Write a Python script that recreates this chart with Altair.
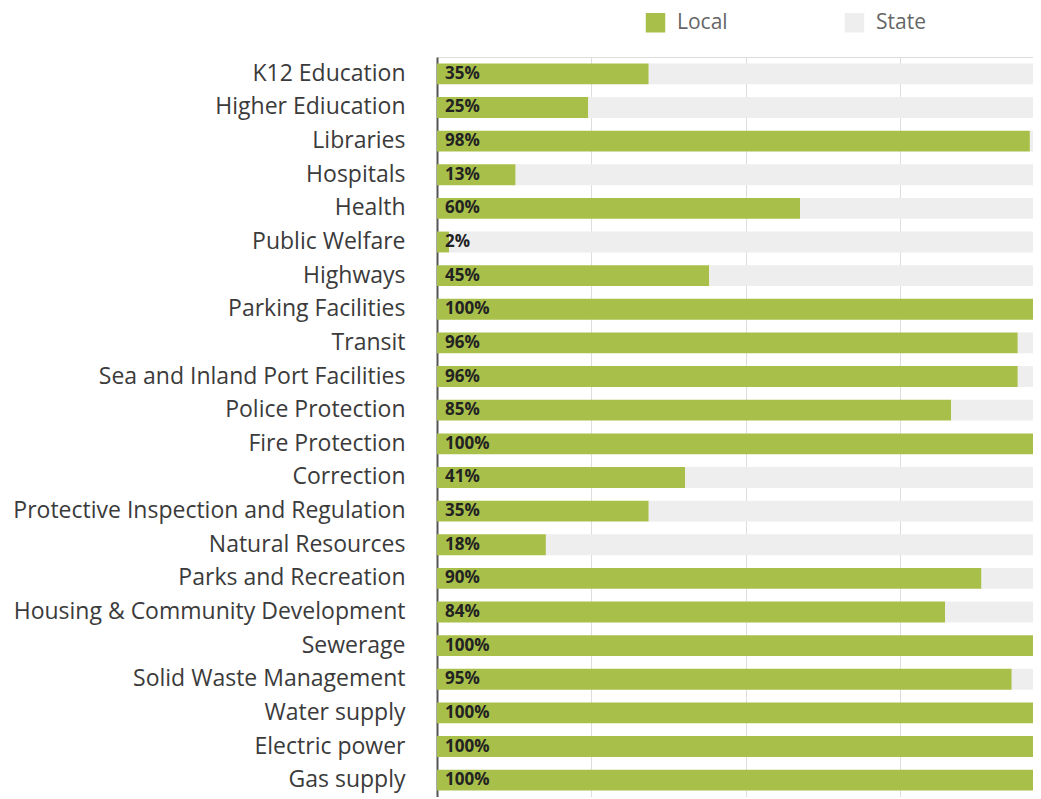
import altair as alt
import pandas as pd

categories = [
    "K12 Education", "Higher Ediucation", "Libraries", "Hospitals", "Health",
    "Public Welfare", "Highways", "Parking Facilities", "Transit",
    "Sea and Inland Port Facilities", "Police Protection", "Fire Protection",
    "Correction", "Protective Inspection and Regulation", "Natural Resources",
    "Parks and Recreation", "Housing & Community Development", "Sewerage",
    "Solid Waste Management", "Water supply", "Electric power", "Gas supply",
]
local_share = [35, 25, 98, 13, 60, 2, 45, 100, 96, 96, 85, 100, 41, 35, 18,
               90, 84, 100, 95, 100, 100, 100]
series = ["Local", "State"]
colors = ["#a8bf4a", "#eeeeee"]
grid_ticks = [25.5, 51, 76.5]

rows = []
for i, (c, v) in enumerate(zip(categories, local_share)):
    rows.append({"category": c, "series": "Local", "value": v, "ord": 0})
    rows.append({"category": c, "series": "State", "value": 100 - v, "ord": 1})
df = pd.DataFrame(rows)
lab = pd.DataFrame({"category": categories,
                    "label": [f"{v}%" for v in local_share]})

y_enc = alt.Y("category:N", sort=categories, title=None,
              scale=alt.Scale(paddingInner=0.38, paddingOuter=0.19),
              axis=alt.Axis(labelFont="Open Sans", labelFontSize=23,
                            labelColor="#3b3b3b", labelPadding=32,
                            labelLimit=440,
                            ticks=False, domain=True, domainColor="#555555",
                            domainWidth=2, grid=False))

bars = alt.Chart(df).mark_bar().encode(
    y=y_enc,
    x=alt.X("value:Q", stack="zero", title=None,
            scale=alt.Scale(domain=[0, 100], range=[0, 605], nice=False),
            axis=alt.Axis(values=grid_ticks, grid=True, gridColor="#dddddd",
                          gridWidth=1, labels=False, ticks=False,
                          domain=False)),
    color=alt.Color("series:N", scale=alt.Scale(domain=series, range=colors),
                    legend=alt.Legend(title=None, orient="none",
                                      direction="horizontal",
                                      legendX=208, legendY=-45,
                                      symbolType="square", symbolSize=380,
                                      symbolStrokeWidth=0, symbolOpacity=1,
                                      labelFont="Open Sans", labelFontSize=21,
                                      labelColor="#666666", labelOffset=11,
                                      columnPadding=116)),
    order=alt.Order("ord:Q"),
)

texts = alt.Chart(lab).mark_text(
    align="left", baseline="middle", dx=8, font="Open Sans", fontWeight="bold",
    fontSize=17, color="#222222"
).encode(
    y=alt.Y("category:N", sort=categories),
    x=alt.datum(0),
    text="label:N",
)

chart = alt.layer(bars, texts).properties(
    width=596, height=740,
    autosize=alt.AutoSizeParams(type="none"),
    padding={"left": 429, "top": 49, "right": 0, "bottom": 0},
).configure_view(stroke=None).configure(background="white")

chart.save("out.html", embed_options={"renderer": "svg", "actions": False})
